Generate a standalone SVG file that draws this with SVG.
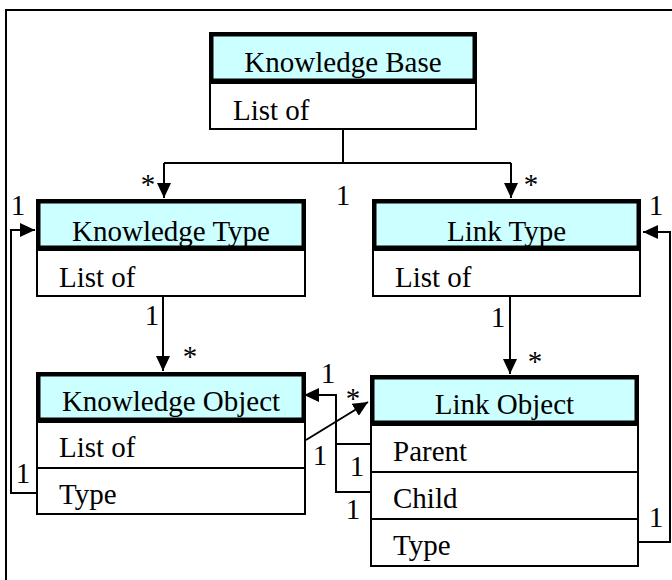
<svg xmlns="http://www.w3.org/2000/svg" width="672" height="580" viewBox="0 0 672 580">
<style>
.hdr{fill:#ccffff;stroke:#000;stroke-width:4.5}
.cmp{fill:#fff;stroke:#000;stroke-width:2}
.t{font-family:'Liberation Serif','DejaVu Serif',serif;font-size:29px;fill:#000}
.m{text-anchor:middle}
.c{fill:none;stroke:#000;stroke-width:2}
</style>
<defs>
<marker id="arr" markerUnits="userSpaceOnUse" markerWidth="16" markerHeight="14" refX="15" refY="7" orient="auto">
<path d="M0,0 L15,7 L0,14 z" fill="#000"/>
</marker>
</defs>
<rect x="6" y="10" width="720" height="620" fill="#fff" stroke="#000" stroke-width="2"/>

<g id="knowledge-base">
<rect class="cmp" x="210" y="83" width="266" height="46"/>
<rect class="hdr" x="211.25" y="34.25" width="263.5" height="46.5"/>
<text class="t m" x="343" y="72" font-family="Liberation Serif, serif">Knowledge Base</text>
<text class="t" x="233" y="120" font-family="Liberation Serif, serif">List of</text>
</g>

<g id="knowledge-type">
<rect class="cmp" x="37" y="250" width="268" height="46"/>
<rect class="hdr" x="38.25" y="201.25" width="265.5" height="46.5"/>
<text class="t m" x="171" y="241">Knowledge Type</text>
<text class="t" x="59" y="287">List of</text>
</g>

<g id="link-type">
<rect class="cmp" x="373" y="250" width="267" height="46"/>
<rect class="hdr" x="374.25" y="201.25" width="264.5" height="46.5"/>
<text class="t m" x="506.5" y="241">Link Type</text>
<text class="t" x="395" y="287">List of</text>
</g>

<g id="knowledge-object">
<rect class="cmp" x="37" y="422" width="268" height="46"/>
<rect class="cmp" x="37" y="468" width="268" height="46"/>
<rect class="hdr" x="38.25" y="374.25" width="265.5" height="45.5"/>
<text class="t m" x="171" y="411">Knowledge Object</text>
<text class="t" x="59" y="457">List of</text>
<text class="t" x="59" y="504">Type</text>
</g>

<g id="link-object">
<rect class="cmp" x="371" y="425" width="267" height="47"/>
<rect class="cmp" x="371" y="472" width="267" height="47"/>
<rect class="cmp" x="371" y="519" width="267" height="47"/>
<rect class="hdr" x="372.25" y="377.25" width="264.5" height="45.5"/>
<text class="t m" x="504.5" y="414">Link Object</text>
<text class="t" x="393" y="461">Parent</text>
<text class="t" x="393" y="508">Child</text>
<text class="t" x="393" y="555">Type</text>
</g>

<g id="connectors">
<path class="c" d="M343,130 V163 M164,163 H511"/>
<path class="c" d="M164,163 V198" marker-end="url(#arr)"/>
<path class="c" d="M511,163 V198" marker-end="url(#arr)"/>
<path class="c" d="M163,297 V371" marker-end="url(#arr)"/>
<path class="c" d="M510,297 V374" marker-end="url(#arr)"/>
<path class="c" d="M37,493 H11 V230 H35" marker-end="url(#arr)"/>
<path class="c" d="M638,542 H670 V232 H643" marker-end="url(#arr)"/>
<path class="c" d="M371,492 H336 V395 H304" marker-end="url(#arr)"/>
<path class="c" d="M336,444 H371"/>
<path class="c" d="M306,440 L368,402" marker-end="url(#arr)"/>
<text class="t m" x="148" y="194">*</text>
<text class="t m" x="343" y="205">1</text>
<text class="t m" x="531" y="194">*</text>
<text class="t m" x="152" y="325">1</text>
<text class="t m" x="190" y="366">*</text>
<text class="t m" x="498" y="327">1</text>
<text class="t m" x="535" y="371">*</text>
<text class="t m" x="18" y="215">1</text>
<text class="t m" x="23" y="483">1</text>
<text class="t m" x="656" y="215">1</text>
<text class="t m" x="656" y="527">1</text>
<text class="t m" x="328" y="383">1</text>
<text class="t m" x="353" y="408">*</text>
<text class="t m" x="320" y="465">1</text>
<text class="t m" x="357" y="476">1</text>
<text class="t m" x="353" y="519">1</text>
</g>
</svg>
